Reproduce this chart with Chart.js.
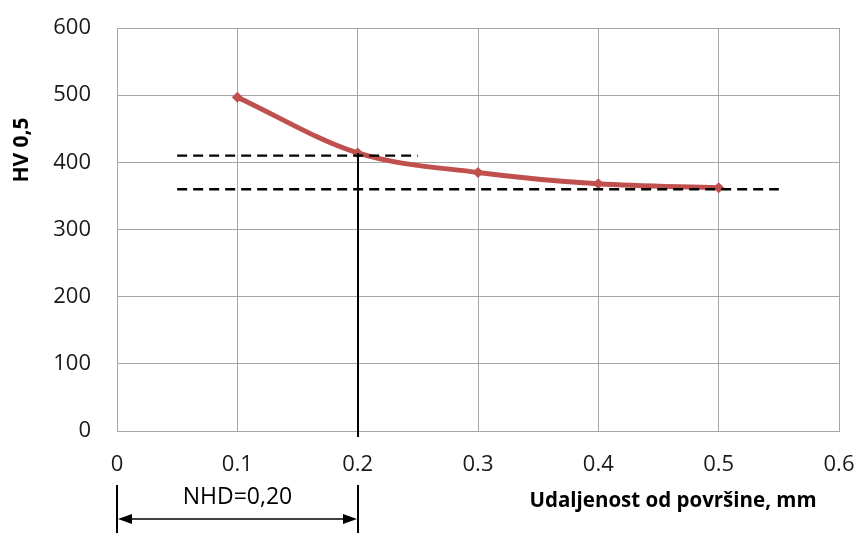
<!DOCTYPE html>
<html>
<head>
<meta charset="utf-8">
<script src="https://cdn.jsdelivr.net/npm/chart.js@4"></script>
<style>
  html, body { margin:0; padding:0; background:#fff; }
  #wrap { width:860px; height:533px; }
</style>
</head>
<body>
<div id="wrap"><canvas id="chart" width="860" height="533"></canvas></div>
<script>
// data
const distances = [0.1, 0.2, 0.3, 0.4, 0.5];
const hardness = [497, 414, 385, 368, 362];

// helper lines
const upperLevel = 410;           // short dashed line
const upperRange = [0.05, 0.25];
const lowerLevel = 360;           // long dashed line
const lowerRange = [0.05, 0.55];
const nhd = 0.2;                  // hardening depth
const nhdLabel = 'NHD=0,20';

const xTitle = 'Udaljenost od površine, mm';
const yTitle = 'HV 0,5';

const FONT = '"Open Sans", "Liberation Sans", sans-serif';

// draws the dashed lines, the NHD marker and the axis titles
const overlay = {
  id: 'overlay',
  afterDatasetsDraw(chart) {
    const ctx = chart.ctx;
    const x = chart.scales.x, y = chart.scales.y;
    ctx.save();

    // dashed levels
    ctx.strokeStyle = '#000';
    ctx.lineWidth = 2.4;
    ctx.setLineDash([10, 6]);
    ctx.beginPath();
    ctx.moveTo(x.getPixelForValue(upperRange[0]), y.getPixelForValue(upperLevel));
    ctx.lineTo(x.getPixelForValue(upperRange[1]), y.getPixelForValue(upperLevel));
    ctx.moveTo(x.getPixelForValue(lowerRange[0]), y.getPixelForValue(lowerLevel));
    ctx.lineTo(x.getPixelForValue(lowerRange[1]), y.getPixelForValue(lowerLevel));
    ctx.stroke();
    ctx.setLineDash([]);

    // vertical line at NHD, from the curve down past the axis
    const xn = Math.round(x.getPixelForValue(nhd));
    const x0 = Math.round(x.getPixelForValue(0));
    const yTop = y.getPixelForValue(hardness[distances.indexOf(nhd)]);
    ctx.lineWidth = 2;
    ctx.beginPath();
    ctx.moveTo(xn, yTop);
    ctx.lineTo(xn, y.bottom + 6);
    ctx.moveTo(xn, y.bottom + 54);
    ctx.lineTo(xn, y.bottom + 102);
    ctx.moveTo(x0, y.bottom + 54);
    ctx.lineTo(x0, y.bottom + 102);
    ctx.stroke();

    // double arrow
    const ya = y.bottom + 88;
    ctx.lineWidth = 1.3;
    ctx.beginPath();
    ctx.moveTo(x0 + 10, ya);
    ctx.lineTo(xn - 10, ya);
    ctx.stroke();
    ctx.fillStyle = '#000';
    ctx.beginPath();
    ctx.moveTo(x0 + 1, ya); ctx.lineTo(x0 + 15, ya - 5); ctx.lineTo(x0 + 15, ya + 5); ctx.closePath();
    ctx.moveTo(xn - 1, ya); ctx.lineTo(xn - 15, ya - 5); ctx.lineTo(xn - 15, ya + 5); ctx.closePath();
    ctx.fill();

    // NHD label
    ctx.font = '23px ' + FONT;
    ctx.textAlign = 'center';
    ctx.textBaseline = 'middle';
    ctx.fillStyle = '#000';
    ctx.fillText(nhdLabel, (x0 + xn) / 2, y.bottom + 66);

    // axis titles
    ctx.font = 'bold 20.5px ' + FONT;
    ctx.fillText(xTitle, 673, y.bottom + 70);
    ctx.font = 'bold 21px ' + FONT;
    ctx.translate(22, 150);
    ctx.rotate(-Math.PI / 2);
    ctx.fillText(yTitle, 0, 0);
    ctx.restore();
  }
};

new Chart(document.getElementById('chart'), {
  type: 'line',
  data: {
    datasets: [{
      data: distances.map((d, i) => ({ x: d, y: hardness[i] })),
      borderColor: '#C0504D',
      backgroundColor: '#C0504D',
      borderWidth: 5,
      tension: 0.4,
      cubicInterpolationMode: 'monotone',
      pointStyle: 'rectRot',
      pointRadius: 5.5,
      pointBorderWidth: 0
    }]
  },
  options: {
    responsive: false,
    animation: false,
    layout: { padding: { top: 28, right: 21, left: 0, bottom: 0 } },
    plugins: { legend: { display: false }, tooltip: { enabled: false } },
    scales: {
      x: {
        type: 'linear',
        min: 0, max: 0.6,
        afterFit: s => { s.height = 102; s.paddingLeft = 0; s.paddingRight = 0; },
        grid: { color: '#a6a6a6', drawTicks: false },
        border: { color: '#a6a6a6' },
        ticks: {
          stepSize: 0.1, padding: 21,
          color: '#1a1a1a',
          font: { family: FONT, size: 22 },
          callback: v => Math.round(v * 10) / 10
        }
      },
      y: {
        min: 0, max: 600,
        afterFit: s => { s.width = 117; s.paddingTop = 0; s.paddingBottom = 0; },
        grid: { color: '#a6a6a6', drawTicks: false },
        border: { color: '#a6a6a6' },
        ticks: {
          stepSize: 100, padding: 26,
          color: '#1a1a1a',
          font: { family: FONT, size: 22 }
        }
      }
    }
  },
  plugins: [overlay]
});
</script>
</body>
</html>
